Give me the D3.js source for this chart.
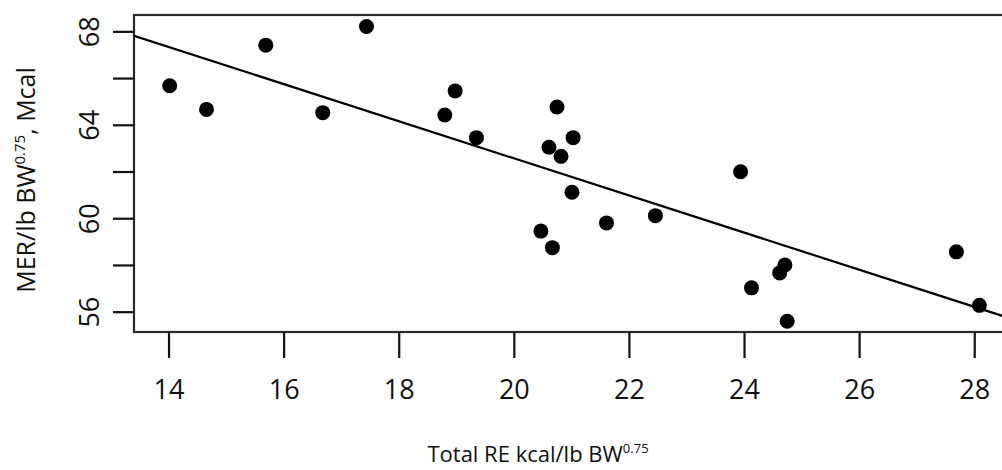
<!DOCTYPE html>
<html><head><meta charset="utf-8">
<script src="https://cdn.jsdelivr.net/npm/d3@7/dist/d3.min.js"></script>
<style>html,body{margin:0;padding:0;background:#fff;overflow:hidden}</style>
</head><body>
<svg id="chart" width="1002" height="470"></svg>
<script>
const reX = [14.02,14.66,15.69,16.68,17.44,18.80,18.98,19.35,20.75,21.03,20.61,20.82,21.01,21.61,20.47,20.67,22.46,23.94,24.13,24.71,24.62,24.75,27.69,28.09];
const merY = [65.67,64.66,67.41,64.52,68.21,64.42,65.45,63.45,64.76,63.45,63.04,62.65,61.11,59.80,59.45,58.74,60.11,61.99,57.02,58.00,57.66,55.59,58.56,56.27];
const fitIntercept = 78.46;
const fitSlope = -0.7947;
const xTicks = [14,16,18,20,22,24,26,28];
const yTicks = [56,58,60,62,64,66,68];
const yTickLabels = [56,60,64,68];

const svg = d3.select("#chart");
const L = 134, T = 15, B = 332, R = 1012;
const x = d3.scaleLinear().domain([13.40, 13.40 + (R - L) / 57.55]).range([L, R]);
const y = d3.scaleLinear().domain([55.13, 68.70]).range([B, T]);
const font = "'Open Sans', sans-serif";

svg.append("clipPath").attr("id","clip").append("rect")
  .attr("x", L).attr("y", T).attr("width", R - L).attr("height", B - T);

svg.append("rect").attr("x", L).attr("y", T).attr("width", R - L).attr("height", B - T)
  .attr("fill","none").attr("stroke","#2a2a2a").attr("stroke-width",2.2);

const xAxis = svg.append("g").attr("transform", `translate(0,${B})`)
  .call(d3.axisBottom(x).tickValues(xTicks).tickSize(26).tickPadding(22).tickFormat(d3.format("d")));
xAxis.select(".domain").remove();
xAxis.selectAll(".tick line").attr("stroke","#111").attr("stroke-width",2.2);
xAxis.selectAll(".tick text").attr("font-family",font).attr("font-size",27).attr("fill","#111");

const yAxis = svg.append("g").attr("transform", `translate(${L},0)`)
  .call(d3.axisLeft(y).tickValues(yTicks).tickSize(21).tickFormat(d => yTickLabels.includes(d) ? d : ""));
yAxis.select(".domain").remove();
yAxis.selectAll(".tick line").attr("stroke","#111").attr("stroke-width",2.2);
yAxis.selectAll(".tick text")
  .attr("font-family",font).attr("font-size",27).attr("fill","#111")
  .attr("text-anchor","middle").attr("dy",null).attr("x",null)
  .attr("transform","translate(-46,0) rotate(-90)").attr("dominant-baseline","central");

const x0 = x.domain()[0], x1 = x.domain()[1];
svg.append("line").attr("clip-path","url(#clip)")
  .attr("x1", x(x0)).attr("y1", y(fitIntercept + fitSlope * x0))
  .attr("x2", x(x1)).attr("y2", y(fitIntercept + fitSlope * x1))
  .attr("stroke","#000").attr("stroke-width",2.2);

svg.append("g").selectAll("circle").data(reX.map((v,i)=>[v, merY[i]])).join("circle")
  .attr("cx", d => x(d[0])).attr("cy", d => y(d[1])).attr("r", 7.5).attr("fill","#000");

const xt = svg.append("text").attr("x", 538).attr("y", 462).attr("text-anchor","middle")
  .attr("font-family",font).attr("font-size",22).attr("fill","#111");
xt.append("tspan").text("Total RE kcal/lb BW");
xt.append("tspan").attr("font-size",13).attr("dy",-9).text("0.75");

const yt = svg.append("text").attr("transform","translate(35,180) rotate(-90)").attr("text-anchor","middle")
  .attr("font-family",font).attr("font-size",25).attr("fill","#111");
yt.append("tspan").text("MER/lb BW");
yt.append("tspan").attr("font-size",15).attr("dy",-10).text("0.75");
yt.append("tspan").attr("dy",10).text(", Mcal");
</script>
</body></html>
